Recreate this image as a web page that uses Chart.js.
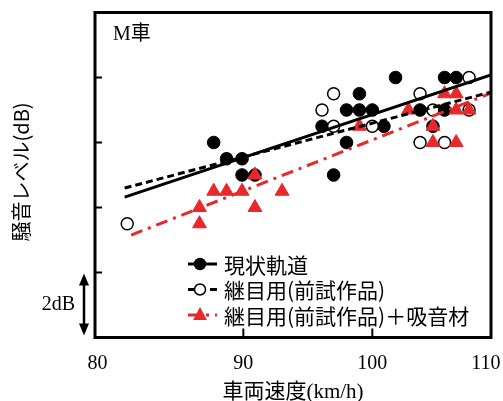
<!DOCTYPE html>
<html>
<head>
<meta charset="utf-8">
<script src="https://cdn.jsdelivr.net/npm/chart.js@4"></script>
<style>
  html, body { margin: 0; padding: 0; background: #fff; }
  #wrap { width: 503px; height: 401px; }
</style>
</head>
<body>
<div id="wrap"><canvas id="c" width="503" height="401"></canvas></div>
<script>
// 現状軌道 (filled circles)
const genjoX = [87.7, 88.7, 89.9, 89.9, 90.9, 97.0, 96.1, 98.0, 98.0, 99.0, 100.0, 99.0, 100.9, 101.8, 103.7, 105.6, 104.7, 105.6, 106.5];
const genjoY = [86.0, 85.5, 85.5, 85.0, 85.0, 85.0, 86.5, 86.0, 87.0, 87.0, 87.0, 87.5, 86.5, 88.0, 87.0, 87.0, 86.5, 88.0, 88.0];

// 継目用(前試作品) (open circles)
const tsugimeX = [81.0, 96.1, 97.0, 97.0, 100.0, 103.7, 104.7, 107.5, 103.7, 105.6, 107.5];
const tsugimeY = [83.5, 87.0, 87.5, 86.5, 86.5, 87.5, 87.0, 88.0, 86.0, 86.0, 87.0];

// 継目用(前試作品)+吸音材 (red triangles)
const kyuonX = [86.6, 86.6, 87.7, 88.7, 89.9, 90.9, 90.9, 93.0, 99.0, 102.8, 104.7, 104.7, 105.6, 106.5, 106.5, 107.5, 106.5];
const kyuonY = [83.5, 84.0, 84.5, 84.5, 84.5, 85.0, 84.0, 84.5, 86.5, 87.0, 86.5, 86.0, 87.5, 87.5, 87.0, 87.0, 86.0];

// trend lines (end points)
const genjoFitX = [80.8, 109.2];
const genjoFitY = [84.32, 88.08];
const tsugimeFitX = [80.8, 109.2];
const tsugimeFitY = [84.6, 87.55];
const kyuonFitX = [81.3, 109.2];
const kyuonFitY = [83.15, 87.52];

// axes
const xMin = 78.5, xMax = 109.2;
const yMin = 80, yMax = 90;
const xTickValues = [78.7, 90, 100, 108.8];
const xTickLabels = ['80', '90', '100', '110'];
const xInnerTicks = [90, 100];
const yTickValues = [82, 84, 86, 88];
const scaleBar = [82, 80]; // 2dB

const RED = '#e8292b';
const SERIF = "'Liberation Serif', 'Noto Sans CJK JP', serif";
const GOTHIC = "'Noto Sans CJK JP', 'Noto Sans', sans-serif";

const pts = (xs, ys) => xs.map((x, i) => ({ x: x, y: ys[i] }));

const legendItems = [
  { label: '現状軌道', color: '#000', dash: [], style: 'circle', fill: '#000' },
  { label: '継目用(前試作品)', color: '#000', dash: [7, 4], style: 'circle', fill: '#fff' },
  { label: '継目用(前試作品)＋吸音材', color: RED, dash: [12, 6, 3, 6], style: 'triangle', fill: RED }
];

const decor = {
  id: 'decor',
  afterDatasetsDraw(chart) {
    const { ctx, chartArea: a, scales: { x, y } } = chart;
    ctx.save();
    ctx.strokeStyle = '#000';
    ctx.fillStyle = '#000';

    // inward tick marks
    ctx.lineWidth = 2;
    yTickValues.forEach(v => {
      const py = y.getPixelForValue(v);
      ctx.beginPath(); ctx.moveTo(a.left, py); ctx.lineTo(a.left + 7, py); ctx.stroke();
    });
    xInnerTicks.forEach(v => {
      const px = x.getPixelForValue(v);
      ctx.beginPath(); ctx.moveTo(px, a.bottom); ctx.lineTo(px, a.bottom - 9); ctx.stroke();
    });

    // frame
    ctx.lineWidth = 3;
    ctx.strokeRect(a.left, a.top, a.right - a.left, a.bottom - a.top);

    // car label
    ctx.font = '20px ' + SERIF;
    ctx.textAlign = 'left'; ctx.textBaseline = 'middle';
    ctx.fillText('M車', 113, 35);

    // y title
    ctx.save();
    ctx.translate(21, 172);
    ctx.rotate(-Math.PI / 2);
    ctx.font = '20px ' + GOTHIC;
    ctx.textAlign = 'center';
    ctx.fillText('騒音レベル(dB)', 0, 0);
    ctx.restore();

    // 2dB scale bar
    const top = y.getPixelForValue(scaleBar[0]) + 1;
    const bot = y.getPixelForValue(scaleBar[1]) - 2;
    const ax = 84;
    ctx.lineWidth = 2.5;
    ctx.beginPath(); ctx.moveTo(ax, top + 8); ctx.lineTo(ax, bot - 8); ctx.stroke();
    ctx.beginPath(); ctx.moveTo(ax, top); ctx.lineTo(ax - 5, top + 12); ctx.lineTo(ax + 5, top + 12); ctx.closePath(); ctx.fill();
    ctx.beginPath(); ctx.moveTo(ax, bot); ctx.lineTo(ax - 5, bot - 12); ctx.lineTo(ax + 5, bot - 12); ctx.closePath(); ctx.fill();
    ctx.font = '20px ' + SERIF;
    ctx.textAlign = 'right';
    ctx.fillText('2dB', 75, (top + bot) / 2);

    // legend
    legendItems.forEach((it, i) => {
      const ly = 264 + i * 25.5;
      ctx.strokeStyle = it.color;
      ctx.lineWidth = 3;
      ctx.setLineDash(it.dash);
      ctx.beginPath(); ctx.moveTo(188, ly); ctx.lineTo(217, ly); ctx.stroke();
      ctx.setLineDash([]);
      ctx.fillStyle = it.fill;
      if (it.style === 'circle') {
        ctx.strokeStyle = '#000';
        ctx.lineWidth = 1.5;
        ctx.beginPath(); ctx.arc(200, ly, 5.5, 0, Math.PI * 2); ctx.fill(); ctx.stroke();
      } else {
        ctx.beginPath(); ctx.moveTo(200, ly - 8); ctx.lineTo(207, ly + 5); ctx.lineTo(193, ly + 5); ctx.closePath(); ctx.fill();
      }
      ctx.fillStyle = '#000';
      ctx.font = '21px ' + GOTHIC;
      ctx.textAlign = 'left';
      ctx.fillText(it.label, 224, ly + 1);
    });
    ctx.restore();
  }
};

new Chart(document.getElementById('c'), {
  type: 'scatter',
  data: {
    datasets: [
      { label: 'fit1', data: pts(genjoFitX, genjoFitY), showLine: true, borderColor: '#000', borderWidth: 3, pointRadius: 0, order: 0 },
      { label: 'fit2', data: pts(tsugimeFitX, tsugimeFitY), showLine: true, borderColor: '#000', borderWidth: 3, borderDash: [7, 4], pointRadius: 0, order: 0 },
      { label: 'fit3', data: pts(kyuonFitX, kyuonFitY), showLine: true, borderColor: RED, borderWidth: 3, borderDash: [12, 6, 3, 6], pointRadius: 0, order: 0 },
      { label: '継目用(前試作品)＋吸音材', data: pts(kyuonX, kyuonY), pointStyle: 'triangle', pointRadius: 8, backgroundColor: RED, borderColor: RED, borderWidth: 1, order: 1 },
      { label: '継目用(前試作品)', data: pts(tsugimeX, tsugimeY), pointStyle: 'circle', pointRadius: 6, backgroundColor: '#fff', borderColor: '#000', borderWidth: 1.5, order: 2 },
      { label: '現状軌道', data: pts(genjoX, genjoY), pointStyle: 'circle', pointRadius: 6.3, backgroundColor: '#000', borderColor: '#000', borderWidth: 1, order: 3 }
    ]
  },
  options: {
    responsive: false,
    animation: false,
    events: [],
    layout: { padding: { top: 12.5, right: 12, left: 0, bottom: 0 } },
    plugins: { legend: { display: false }, tooltip: { enabled: false } },
    scales: {
      x: {
        type: 'linear', min: xMin, max: xMax,
        afterFit: s => { s.height = 63.5; s.paddingLeft = 0; s.paddingRight = 0; },
        afterBuildTicks: s => { s.ticks = xTickValues.map(v => ({ value: v })); },
        grid: { display: false }, border: { display: false },
        ticks: {
          callback: (v, i) => xTickLabels[i],
          font: { family: SERIF, size: 20 }, color: '#000',
          padding: 6, maxRotation: 0, autoSkip: false
        },
        title: {
          display: true, text: '車両速度(km/h)', color: '#000',
          font: { family: SERIF, size: 21, lineHeight: 1 },
          padding: { top: 0, bottom: -2 }
        }
      },
      y: {
        type: 'linear', min: yMin, max: yMax,
        afterFit: s => { s.width = 95; },
        grid: { display: false }, border: { display: false },
        ticks: { display: false }
      }
    }
  },
  plugins: [decor]
});
</script>
</body>
</html>
